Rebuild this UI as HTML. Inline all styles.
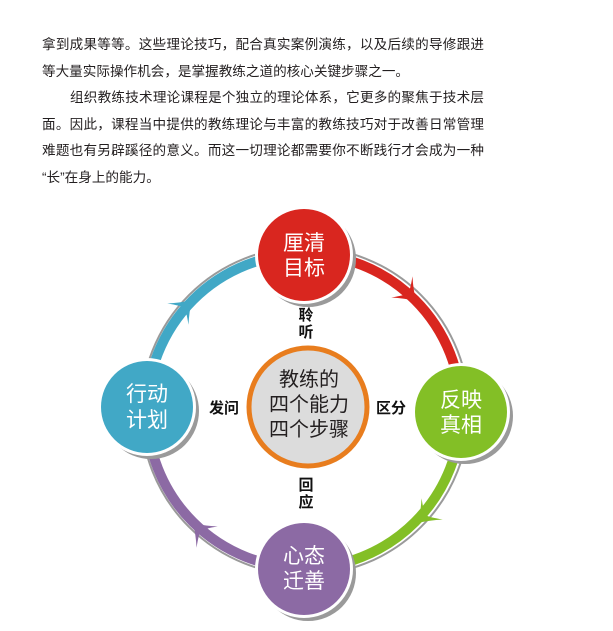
<!DOCTYPE html>
<html><head><meta charset="utf-8">
<style>
html,body{margin:0;padding:0;background:#fff;}
body{width:613px;height:631px;position:relative;overflow:hidden;font-family:"Liberation Sans","Noto Sans CJK SC",sans-serif;}
.p{position:absolute;left:42px;width:442px;font-size:13.6px;color:#231f20;line-height:26.6px;}
.p div{text-align:justify;text-align-last:justify;white-space:nowrap;height:26.6px;}
.p div.l{text-align-last:left;}
svg{position:absolute;left:0;top:0;}
</style></head><body>
<div class="p" style="top:32px">
<div>拿到成果等等。这些理论技巧，配合真实案例演练，以及后续的导修跟进</div>
<div class="l">等大量实际操作机会，是掌握教练之道的核心关键步骤之一。</div>
<div style="padding-left:28px">组织教练技术理论课程是个独立的理论体系，它更多的聚焦于技术层</div>
<div>面。因此，课程当中提供的教练理论与丰富的教练技巧对于改善日常管理</div>
<div>难题也有另辟蹊径的意义。而这一切理论都需要你不断践行才会成为一种</div>
<div class="l">“长”在身上的能力。</div>
</div>
<svg width="613" height="631" viewBox="0 0 613 631" font-family="Liberation Sans, Noto Sans CJK SC, sans-serif">
<defs>
<path id="ah" d="M0,0 Q-10,-6 -20,-15 Q-12,-4 -11,0 Q-12,4 -20,15 Q-10,6 0,0Z"/>
</defs>
<circle cx="305" cy="411" r="164" fill="none" stroke="#9a9a9a" stroke-width="2"/>
<circle cx="305" cy="411" r="161" fill="none" stroke="#fff" stroke-width="3"/>
<g fill="none" stroke-width="10">
<path d="M304,254 A157,157 0 0 1 461,411" stroke="#d9261f"/>
<path d="M461,411 A157,157 0 0 1 304,568" stroke="#83bf26"/>
<path d="M304,568 A157,157 0 0 1 147,411" stroke="#8c6aa4"/>
<path d="M147,411 A157,157 0 0 1 304,254" stroke="#41a8c6"/>
</g>
<use href="#ah" fill="#d9261f" transform="translate(416,301) rotate(45)"/>
<use href="#ah" fill="#83bf26" transform="translate(418,523) rotate(135)"/>
<use href="#ah" fill="#8c6aa4" transform="translate(193,523) rotate(-135)"/>
<use href="#ah" fill="#41a8c6" transform="translate(192,300) rotate(-45)"/>
<g>
<circle cx="308" cy="259" r="48" fill="#9a9a9a"/><circle cx="304" cy="255" r="49" fill="#fff"/><circle cx="304" cy="255" r="46" fill="#d9261f"/>
<circle cx="465" cy="416" r="48" fill="#9a9a9a"/><circle cx="461" cy="412" r="49" fill="#fff"/><circle cx="461" cy="412" r="46" fill="#83bf26"/>
<circle cx="308" cy="573" r="48" fill="#9a9a9a"/><circle cx="304" cy="569" r="49" fill="#fff"/><circle cx="304" cy="569" r="46" fill="#8c6aa4"/>
<circle cx="151" cy="411" r="48" fill="#9a9a9a"/><circle cx="147" cy="407" r="49" fill="#fff"/><circle cx="147" cy="407" r="46" fill="#41a8c6"/>
</g>
<g fill="#fff" font-size="21" text-anchor="middle">
<text x="304" y="250">厘清</text><text x="304" y="275">目标</text>
<text x="461" y="407">反映</text><text x="461" y="432">真相</text>
<text x="304" y="563">心态</text><text x="304" y="588">迁善</text>
<text x="147" y="401">行动</text><text x="147" y="427">计划</text>
</g>
<circle cx="308" cy="407" r="59" fill="#dcdcdc" stroke="#e87d1e" stroke-width="5"/>
<g fill="#231f20" font-size="20" text-anchor="middle">
<text x="309" y="386">教练的</text><text x="309" y="411">四个能力</text><text x="309" y="436">四个步骤</text>
</g>
<g fill="#111" font-size="15" font-weight="bold" text-anchor="middle">
<text x="306" y="320">聆</text><text x="306" y="337">听</text>
<text x="306" y="490">回</text><text x="306" y="507">应</text>
<text x="224" y="413">发问</text>
<text x="391" y="413">区分</text>
</g>
</svg>
</body></html>
